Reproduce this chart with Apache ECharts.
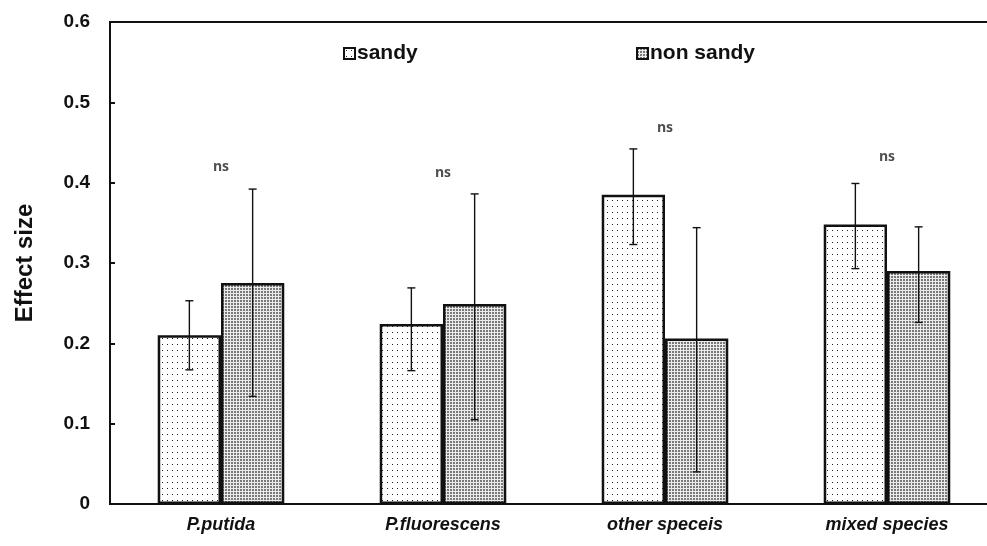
<!DOCTYPE html>
<html>
<head>
<meta charset="utf-8">
<script src="https://cdn.jsdelivr.net/npm/echarts@6/dist/echarts.min.js"></script>
<style>
  html, body { margin: 0; padding: 0; background: #fff; }
  #chart { width: 987px; height: 546px; }
</style>
</head>
<body>
<div id="chart"></div>
<script>
// Effect size by inoculant group, sandy vs non-sandy soils
const categories = ['P.putida', 'P.fluorescens', 'other speceis', 'mixed species'];
const seriesNames = ['sandy', 'non sandy'];

const sandyMean = [0.210, 0.224, 0.385, 0.348];
const sandyLow  = [0.167, 0.166, 0.323, 0.293];
const sandyHigh = [0.253, 0.269, 0.442, 0.399];

const nonSandyMean = [0.275, 0.249, 0.206, 0.290];
const nonSandyLow  = [0.134, 0.105, 0.040, 0.226];
const nonSandyHigh = [0.392, 0.386, 0.344, 0.345];

// "ns" significance labels and their heights on the value axis
const sigLabels = ['ns', 'ns', 'ns', 'ns'];
const sigHeights = [0.420, 0.412, 0.468, 0.432];

const yTicks = [0, 0.1, 0.2, 0.3, 0.4, 0.5, 0.6];

const FONT = "'Liberation Sans', Arial, sans-serif";
const CAT_GAP = 0.43;

// Fill patterns drawn on small canvases
function makePattern(w, h, dots, bg, fg) {
  const c = document.createElement('canvas');
  c.width = w; c.height = h;
  const ctx = c.getContext('2d');
  ctx.fillStyle = bg;
  ctx.fillRect(0, 0, w, h);
  ctx.fillStyle = fg;
  dots.forEach(d => ctx.fillRect(d[0], d[1], 1, 1));
  return { image: c, repeat: 'repeat' };
}
const sparseDots = makePattern(5, 6, [[2, 2]], '#ffffff', '#222222');
const denseDots = makePattern(3, 3, [[0, 0], [1, 0], [0, 1], [1, 1]], '#ebebeb', '#7a7a7a');

function errorSeries(low, high, side) {
  return {
    type: 'custom',
    z: 5,
    silent: true,
    data: low.map((l, i) => [i, l, high[i]]),
    renderItem: function (params, api) {
      const band = api.size([1, 0])[0];
      const bw = band * (1 - CAT_GAP) / 2;
      const lo = api.coord([api.value(0), api.value(1)]);
      const hi = api.coord([api.value(0), api.value(2)]);
      const x = lo[0] + side * bw / 2;
      const cap = 4;
      const style = { stroke: '#111', lineWidth: 1.4 };
      return {
        type: 'group',
        children: [
          { type: 'line', shape: { x1: x, y1: lo[1], x2: x, y2: hi[1] }, style },
          { type: 'line', shape: { x1: x - cap, y1: hi[1], x2: x + cap, y2: hi[1] }, style },
          { type: 'line', shape: { x1: x - cap, y1: lo[1], x2: x + cap, y2: lo[1] }, style }
        ]
      };
    }
  };
}

const chart = echarts.init(document.getElementById('chart'));
chart.setOption({
  animation: false,
  backgroundColor: '#fff',
  grid: {
    left: 110, top: 22, width: 888, height: 482,
    outerBoundsMode: 'none', containLabel: false,
    show: true, borderColor: '#111', borderWidth: 2, backgroundColor: 'transparent'
  },
  legend: [
    {
      data: [seriesNames[0]], left: 338, top: 38,
      icon: 'rect', itemWidth: 11, itemHeight: 11, itemGap: 0,
      textStyle: { fontFamily: FONT, fontWeight: 'bold', fontSize: 21, color: '#111', padding: [0, 0, 0, -3] }
    },
    {
      data: [seriesNames[1]], left: 631, top: 38,
      icon: 'rect', itemWidth: 11, itemHeight: 11, itemGap: 0,
      textStyle: { fontFamily: FONT, fontWeight: 'bold', fontSize: 21, color: '#111', padding: [0, 0, 0, -3] }
    }
  ],
  xAxis: {
    type: 'category',
    data: categories,
    axisLine: { lineStyle: { color: '#111', width: 2 } },
    axisTick: { show: false },
    axisLabel: {
      fontFamily: FONT, fontWeight: 'bold', fontStyle: 'italic', fontSize: 18,
      color: '#111', margin: 12
    }
  },
  yAxis: {
    type: 'value',
    min: yTicks[0], max: yTicks[yTicks.length - 1], interval: 0.1,
    name: 'Effect size',
    nameLocation: 'middle',
    nameGap: 73,
    nameTextStyle: { fontFamily: FONT, fontWeight: 'bold', fontSize: 24, color: '#111' },
    axisLine: { show: true, lineStyle: { color: '#111', width: 2 } },
    axisTick: { show: true, inside: true, length: 5, lineStyle: { color: '#111', width: 2 } },
    splitLine: { show: false },
    axisLabel: {
      fontFamily: FONT, fontWeight: 'bold', fontSize: 19, color: '#111', margin: 20,
      formatter: v => (v === 0 ? '0' : v.toFixed(1))
    }
  },
  series: [
    {
      name: seriesNames[0], type: 'bar', data: sandyMean,
      barGap: '0%', barCategoryGap: (CAT_GAP * 100) + '%',
      itemStyle: { color: sparseDots, borderColor: '#111', borderWidth: 2.5 }
    },
    {
      name: seriesNames[1], type: 'bar', data: nonSandyMean,
      barGap: '0%', barCategoryGap: (CAT_GAP * 100) + '%',
      itemStyle: { color: denseDots, borderColor: '#111', borderWidth: 2.5 }
    },
    errorSeries(sandyLow, sandyHigh, -1),
    errorSeries(nonSandyLow, nonSandyHigh, 1),
    {
      type: 'scatter', silent: true, symbolSize: 0, z: 6,
      data: sigHeights.map((h, i) => [i, h]),
      label: {
        show: true, position: 'inside',
        formatter: p => sigLabels[p.dataIndex],
        fontFamily: "'Open Sans', 'Liberation Sans', sans-serif", fontWeight: 'bold', fontSize: 14, color: '#222'
      }
    }
  ]
});
</script>
</body>
</html>
